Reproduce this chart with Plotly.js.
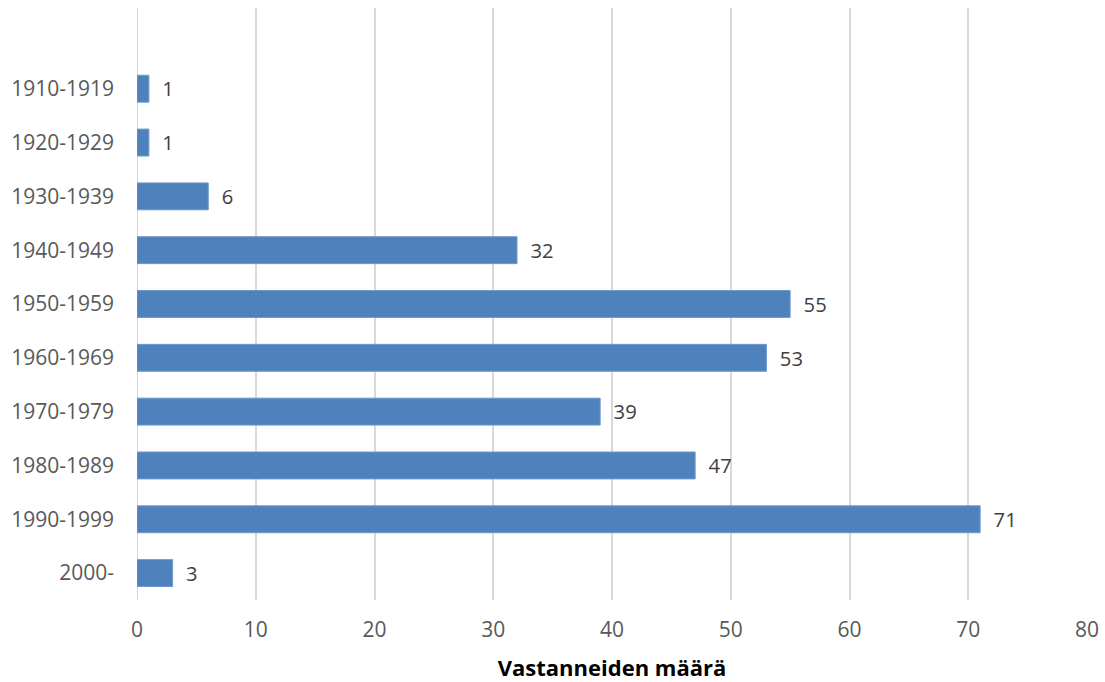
<!DOCTYPE html>
<html>
<head>
<meta charset="utf-8">
<script src="https://cdn.plot.ly/plotly-3.0.1.min.js"></script>
<style>html,body{margin:0;padding:0;background:#fff;}#chart{width:1105px;height:682px;}</style>
</head>
<body>
<div id="chart"></div>
<script>
const categories = ["1910-1919","1920-1929","1930-1939","1940-1949","1950-1959","1960-1969","1970-1979","1980-1989","1990-1999","2000-"];
const counts = [1, 1, 6, 32, 55, 53, 39, 47, 71, 3];
const xTicks = [0, 10, 20, 30, 40, 50, 60, 70, 80];
const xTitle = "Vastanneiden määrä";

const FONT = "'Open Sans', Lato, sans-serif";
const trace = {
  type: "bar",
  orientation: "h",
  y: categories,
  x: counts,
  width: 0.5,
  marker: {color: "#4f81bd", line: {color: "#6d98cc", width: 1}},
  text: counts.map(String),
  texttemplate: "\u00a0\u00a0%{text}",
  textposition: "outside",
  cliponaxis: false,
  textfont: {family: FONT, size: 21, color: "#404040"},
  hoverinfo: "none"
};
const layout = {
  width: 1105, height: 682,
  margin: {l: 137, r: 18, t: 8, b: 82},
  paper_bgcolor: "#fff", plot_bgcolor: "#fff",
  showlegend: false,
  font: {family: FONT, size: 21, color: "#595959"},
  xaxis: {
    range: [0, 80], tickvals: xTicks, ticktext: xTicks.map(String),
    showgrid: true, gridcolor: "#d9d9d9", gridwidth: 2,
    zeroline: false, showline: false, ticks: "", ticklen: 0,
    ticklabelstandoff: 15,
    tickfont: {family: FONT, size: 21, color: "#595959"},
    title: {text: xTitle, font: {family: FONT, size: 22, color: "#000", weight: "bold"}, standoff: 20},
    fixedrange: true
  },
  yaxis: {
    type: "category", categoryorder: "array", categoryarray: categories,
    range: [9.5, -1.5],
    showgrid: false, zeroline: false, showline: false, ticks: "",
    ticklabelstandoff: 22,
    tickfont: {family: FONT, size: 21, color: "#595959"},
    fixedrange: true
  },
  shapes: [{type: "line", xref: "x", yref: "paper", x0: 0, x1: 0, y0: 0, y1: 1, line: {color: "#d9d9d9", width: 2}, layer: "below"}]
};
Plotly.newPlot("chart", [trace], layout, {staticPlot: true, displayModeBar: false});
</script>
</body>
</html>
